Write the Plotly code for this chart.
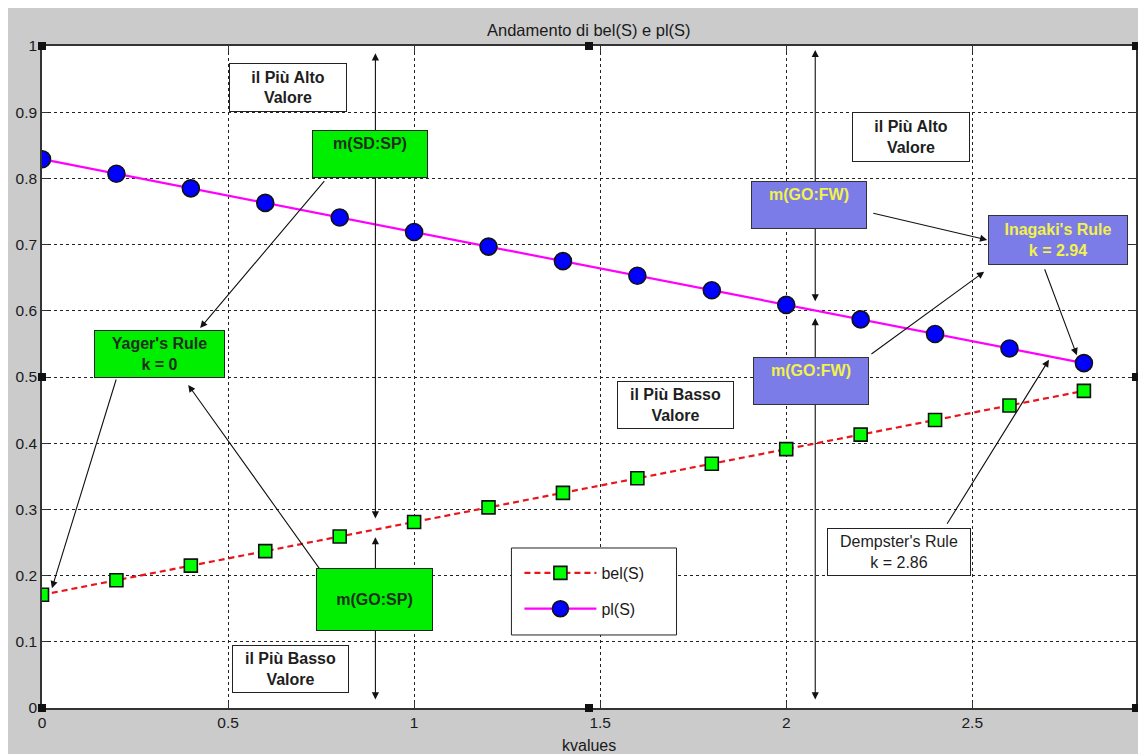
import plotly.graph_objects as go

# ---- data ----
k_values = [0.0, 0.2, 0.4, 0.6, 0.8, 1.0, 1.2, 1.4, 1.6, 1.8, 2.0, 2.2, 2.4, 2.6, 2.8]
bel_S = [0.171, 0.193, 0.215, 0.237, 0.259, 0.281, 0.303, 0.325, 0.347, 0.369,
         0.391, 0.413, 0.435, 0.457, 0.479]
pl_S = [0.829, 0.807, 0.785, 0.763, 0.741, 0.719, 0.697, 0.675, 0.653, 0.631,
        0.609, 0.587, 0.565, 0.543, 0.521]
x_ticks = [0, 0.5, 1, 1.5, 2, 2.5]
y_ticks = [0, 0.1, 0.2, 0.3, 0.4, 0.5, 0.6, 0.7, 0.8, 0.9, 1]
title_text = "Andamento di bel(S) e pl(S)"
xlabel_text = "kvalues"

FONT = "Liberation Sans, Arial, sans-serif"

fig = go.Figure()
fig.add_trace(go.Scatter(
    x=k_values, y=bel_S, name="bel(S)", mode="lines+markers", legendgroup="a",
    line=dict(color="#e8161c", width=2.2, dash="6px,4px"),
    marker=dict(symbol="square", size=13, color="#00ff00", line=dict(color="#111", width=1.6)),
))
fig.add_trace(go.Scatter(
    x=k_values, y=pl_S, name="pl(S)", mode="lines+markers", legendgroup="b",
    line=dict(color="#ff00ff", width=2.2),
    marker=dict(symbol="circle", size=17, color="#0000ff", line=dict(color="#111", width=1.6)),
))

ann = []

def arrow(tx, ty, hx, hy, both=False):
    d = dict(x=hx, y=hy, ax=tx, ay=ty, xref="x", yref="y", axref="x", ayref="y",
             text="", showarrow=True, arrowhead=2, arrowsize=1.3, arrowwidth=1.1,
             arrowcolor="#111", standoff=0, startstandoff=0)
    if both:
        d.update(arrowside="end+start", startarrowhead=2, startarrowsize=1.3)
    ann.append(d)

# arrows (drawn first, boxes on top)
arrow(0.896, 0.284, 0.896, 0.989, both=True)
arrow(0.896, 0.0106, 0.896, 0.258, both=True)
arrow(2.078, 0.612, 2.078, 0.994, both=True)
arrow(2.078, 0.0106, 2.078, 0.589, both=True)
arrow(0.762, 0.798, 0.425, 0.574)
arrow(0.2005, 0.4985, 0.0267, 0.181)
arrow(0.773, 0.189, 0.393, 0.488)
arrow(2.230, 0.748, 2.540, 0.707)
arrow(2.225, 0.533, 2.532, 0.659)
arrow(2.693, 0.665, 2.781, 0.533)
arrow(2.430, 0.276, 2.706, 0.526)

def box(x, y, text, w, h, bg, fc, bold=True, border="#222"):
    t = "<br>".join(("<b>%s</b>" % s if (bold and s.strip()) else s) for s in text.split("\n"))
    ann.append(dict(x=x, y=y, xref="x", yref="y", text=t, showarrow=False,
                    width=w - 2, height=h - 2, bgcolor=bg, bordercolor=border,
                    borderwidth=1, borderpad=0, align="center", valign="middle",
                    font=dict(family=FONT, size=16, color=fc)))

WHITE, GREEN, BLUE = "#ffffff", "#00ee00", "#7c7ce8"
DARK, GTXT, YTXT = "#1e1e1e", "#1c301c", "#f2f24a"

box(0.660, 0.937, "il Più Alto\nValore", 118, 49, WHITE, DARK)
box(0.882, 0.837, "m(SD:SP)\n ", 116, 48, GREEN, GTXT)
box(2.334, 0.8625, "il Più Alto\nValore", 118, 50, WHITE, DARK)
box(2.061, 0.760, "m(GO:FW)\n ", 116, 48, BLUE, YTXT, border="#333")
box(2.730, 0.707, "Inagaki's Rule\nk = 2.94", 140, 50, BLUE, YTXT, border="#333")
box(0.317, 0.535, "Yager's Rule\nk = 0", 131, 48, GREEN, GTXT)
box(2.067, 0.494, "m(GO:FW)\n ", 116, 48, BLUE, YTXT, border="#333")
box(1.702, 0.4577, "il Più Basso\nValore", 117, 48, WHITE, DARK)
box(2.302, 0.2356, "Dempster's Rule\nk = 2.86", 144, 48, WHITE, DARK, bold=False)
box(0.894, 0.164, "m(GO:SP)", 117, 63, GREEN, GTXT)
box(0.667, 0.0589, "il Più Basso\nValore", 117, 48, WHITE, DARK)

# title and x label
ann.append(dict(x=0.5, y=1.024, xref="paper", yref="paper", text=title_text,
                showarrow=False, yanchor="middle",
                font=dict(family=FONT, size=16.5, color="#1a1a1a")))
ann.append(dict(x=0.5, y=-0.0559, xref="paper", yref="paper", text=xlabel_text,
                showarrow=False, yanchor="middle",
                font=dict(family=FONT, size=16, color="#1a1a1a")))

shapes = []
# legend frame
shapes.append(dict(type="rect", xref="paper", yref="paper", layer="above",
                   x0=0.4291, x1=0.58, y0=0.1103, y1=0.2417,
                   fillcolor="#ffffff", line=dict(color="#222", width=1)))
# plot-edit selection handles
for px, py in [(0, 0), (0.5, 0), (1, 0), (0, 0.5), (1, 0.5), (0, 1), (0.5, 1), (1, 1)]:
    shapes.append(dict(type="rect", xref="paper", yref="paper",
                       xsizemode="pixel", ysizemode="pixel",
                       xanchor=px, yanchor=py, x0=-4, x1=4, y0=-4, y1=4,
                       fillcolor="#111", line=dict(color="#111", width=0)))

axis_common = dict(showline=True, linecolor="#333", linewidth=1.5, mirror="ticks",
                   ticks="inside", ticklen=6, tickcolor="#333",
                   showgrid=True, gridcolor="#222", gridwidth=1, griddash="3px,3px",
                   zeroline=False,
                   tickfont=dict(family=FONT, size=15.5, color="#1a1a1a"))

fig.update_layout(
    width=1138, height=746,
    margin=dict(l=30, r=8, t=38, b=46, pad=0),
    paper_bgcolor="#cbcbcb", plot_bgcolor="#ffffff",
    xaxis=dict(range=[0, 2.94], tickvals=x_ticks, ticktext=[str(v) for v in x_ticks], **axis_common),
    yaxis=dict(range=[0, 1], tickvals=y_ticks, ticktext=[("%g" % v) for v in y_ticks], **axis_common),
    showlegend=True,
    legend=dict(x=0.4364, y=0.2296, xanchor="left", yanchor="top",
                bgcolor="rgba(0,0,0,0)", borderwidth=0,
                font=dict(family=FONT, size=16, color="#1a1a1a"),
                itemwidth=72, tracegroupgap=12, traceorder="grouped"),
    annotations=ann,
    shapes=shapes,
)

fig.write_html("out.html")
